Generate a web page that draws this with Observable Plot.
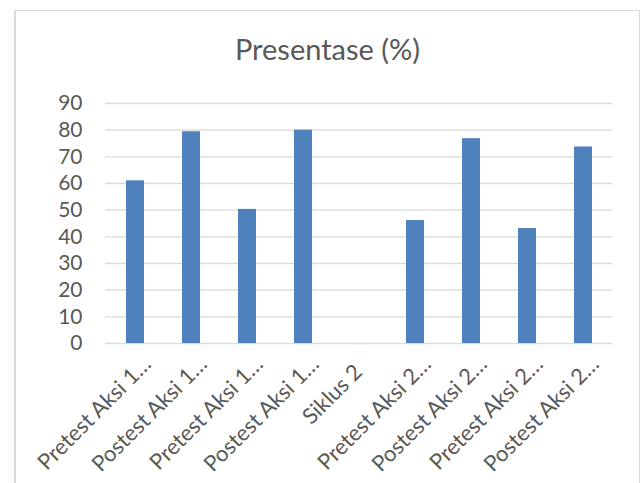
<!DOCTYPE html>
<html><head><meta charset="utf-8">
<script src="https://cdn.jsdelivr.net/npm/d3@7"></script>
<script src="https://cdn.jsdelivr.net/npm/@observablehq/plot@0.6"></script>
<style>
html,body{margin:0;padding:0;background:#fff;overflow:hidden;width:641px;height:483px;}
#frame{position:absolute;left:14px;top:10px;width:623px;height:473px;border-left:2px solid #d9d9d9;border-top:1px solid #d9d9d9;border-right:1px solid #d9d9d9;box-sizing:content-box;}
#chart{position:absolute;left:0;top:0;}
</style></head><body><div id="frame"></div><div id="chart"></div>
<script>
const title = "Presentase (%)";
const labels = ["Pretest Aksi 1…", "Postest Aksi 1…", "Pretest Aksi 1…", "Postest Aksi 1…", "Siklus 2", "Pretest Aksi 2…", "Postest Aksi 2…", "Pretest Aksi 2…", "Postest Aksi 2…"];
const values = [61, 79.4, 50.3, 80, null, 46.1, 76.8, 43.1, 73.7];
const yTicks = [0, 10, 20, 30, 40, 50, 60, 70, 80, 90];

const data = labels.map((label, i) => ({i, label, value: values[i]}));
const idx = d3.range(labels.length);
const truncated = idx.filter(i => labels[i].endsWith("…"));
const plain = idx.filter(i => !labels[i].endsWith("…"));

const tickStyle = {tickSize: 0, tickRotate: -45, tickFormat: i => labels[i], fontSize: 22, fill: "#595959", label: null};

const chart = Plot.plot({
  width: 641, height: 483,
  marginLeft: 105, marginRight: 29, marginTop: 103, marginBottom: 140,
  style: {fontFamily: "Lato", color: "#595959", background: "transparent", overflow: "visible"},
  x: {domain: idx, paddingInner: 0.68, paddingOuter: 0.34, axis: null, label: null},
  y: {domain: [0, 90], axis: null, label: null},
  marks: [
    Plot.gridY(yTicks, {stroke: "#d9d9d9", strokeOpacity: 1, strokeWidth: 1.3}),
    Plot.barY(data.filter(d => d.value != null), {x: "i", y: "value", fill: "#4f81bd"}),
    Plot.axisY(yTicks, {tickSize: 0, tickPadding: 23, fontSize: 21, fill: "#595959", label: null}),
    Plot.axisX(truncated, {...tickStyle, tickPadding: 17, dx: 12}),
    Plot.axisX(plain, {...tickStyle, tickPadding: 25, dx: -1}),
    Plot.text([title], {frameAnchor: "top", dx: -31.5, dy: -44, lineAnchor: "bottom", fontSize: 29, fill: "#595959"})
  ]
});
document.getElementById("chart").appendChild(chart);
</script>
</body></html>
